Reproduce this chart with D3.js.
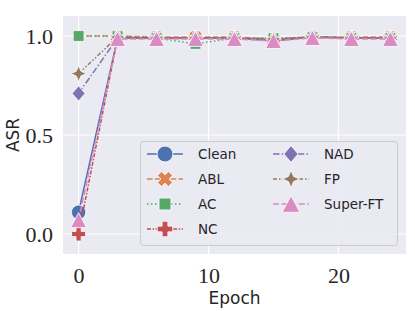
<!DOCTYPE html>
<html><head><meta charset="utf-8">
<script src="https://cdn.jsdelivr.net/npm/d3@7"></script>
<style>body{margin:0;background:#fff}svg{display:block}</style>
</head><body>
<script>
const epochs = [0, 3, 6, 9, 12, 15, 18, 21, 24];
const seriesNames = ["Clean", "ABL", "AC", "NC", "NAD", "FP", "Super-FT"];
const clean   = [0.11, 0.99, 0.99, 0.99, 0.99, 0.975, 0.995, 0.99, 0.99];
const abl     = [1.0, 1.0, 0.995, 0.995, 0.995, 0.985, 0.995, 0.995, 0.995];
const ac      = [1.0, 1.0, 0.99, 0.96, 0.99, 0.99, 0.995, 0.99, 0.99];
const nc      = [0.0, 0.99, 0.99, 0.99, 0.99, 0.98, 0.995, 0.99, 0.99];
const nad     = [0.71, 0.99, 0.99, 0.99, 0.99, 0.98, 0.995, 0.99, 0.99];
const fp      = [0.81, 0.995, 0.99, 0.99, 0.99, 0.985, 0.995, 0.99, 0.99];
const superFT = [0.07, 0.985, 0.985, 0.985, 0.985, 0.975, 0.99, 0.985, 0.985];
const xTicks = [0, 10, 20];
const yTicks = [0.0, 0.5, 1.0];
const yTickLabels = ["0.0", "0.5", "1.0"];

const values = [clean, abl, ac, nc, nad, fp, superFT];
const colors = ["#4C72B0", "#DD8452", "#55A868", "#C44E52", "#8172B3", "#937860", "#DA8BC3"];
const dashes = [null, "5.5,2.4", "1.5,2.5", "4,1.6,1.5,1.6", "6.5,2.2,1.5,2.2", "4,2,1.5,2,1.5,2", "6,2.6"];
const markers = ["circle", "x", "square", "plus", "diamond", "star", "triangle"];

const W = 415, H = 311;
const L = 63, R = 406, T = 16, B = 254;
const svg = d3.select("body").append("svg").attr("width", W).attr("height", H);
const x = d3.scaleLinear().domain([-1.2, 25.2]).range([L, R]);
const y = d3.scaleLinear().domain([-0.101, 1.101]).range([B, T]);

svg.append("rect").attr("x", L).attr("y", T).attr("width", R - L).attr("height", B - T).attr("fill", "#EAEAF2");
// grid
svg.append("g").selectAll("line").data(xTicks).join("line")
  .attr("x1", d => x(d)).attr("x2", d => x(d)).attr("y1", T).attr("y2", B)
  .attr("stroke", "#fff").attr("stroke-width", 1.2);
svg.append("g").selectAll("line").data(yTicks).join("line")
  .attr("y1", d => y(d)).attr("y2", d => y(d)).attr("x1", L).attr("x2", R)
  .attr("stroke", "#fff").attr("stroke-width", 1.2);

// axes (text only)
const tickFont = "'Liberation Serif', 'Times New Roman', serif";
const xAxis = d3.axisBottom(x).tickValues(xTicks).tickSize(0).tickPadding(10).tickFormat(d3.format("d"));
const gx = svg.append("g").attr("transform", `translate(0,${B})`).call(xAxis);
gx.select(".domain").remove();
gx.selectAll("text").attr("font-family", tickFont).attr("font-size", 22).attr("fill", "#262626")
  .attr("dy", "0.88em");
const yAxis = d3.axisLeft(y).tickValues(yTicks).tickSize(0).tickPadding(10).tickFormat((d, i) => yTickLabels[i]);
const gy = svg.append("g").attr("transform", `translate(${L},0)`).call(yAxis);
gy.select(".domain").remove();
gy.selectAll("text").attr("font-family", tickFont).attr("font-size", 22).attr("fill", "#262626");

svg.append("text").attr("x", x(12)).attr("y", 304).attr("text-anchor", "middle")
  .attr("font-family", "'DejaVu Sans', sans-serif").attr("font-size", 17).attr("fill", "#262626").text("Epoch");
svg.append("text").attr("transform", `translate(19,${y(0.5)}) rotate(-90)`).attr("text-anchor", "middle")
  .attr("font-family", "'DejaVu Sans', sans-serif").attr("font-size", 17).attr("fill", "#262626").text("ASR");

function markerPath(type) {
  switch (type) {
    case "circle": { const r = 7.2; return d3.arc()({innerRadius:0,outerRadius:r,startAngle:0,endAngle:2*Math.PI}); }
    case "square": { const s = 5.4; return `M${-s},${-s}H${s}V${s}H${-s}Z`; }
    case "diamond": { const s = 7.6; return `M0,${-s}L${s*0.85},0L0,${s}L${-s*0.85},0Z`; }
    case "triangle": { const w = 8, h = 7.5; return `M0,${-h}L${w},${h}L${-w},${h}Z`; }
    case "plus": { const a = 7, b = 2.6; return `M${-b},${-a}H${b}V${-b}H${a}V${b}H${b}V${a}H${-b}V${b}H${-a}V${-b}H${-b}Z`; }
    case "x": { const a = 7, b = 2.6;
      const pts = [[-b,-a],[b,-a],[b,-b],[a,-b],[a,b],[b,b],[b,a],[-b,a],[-b,b],[-a,b],[-a,-b],[-b,-b]];
      const c = Math.SQRT1_2;
      return "M" + pts.map(([px,py]) => [(px - py) * c, (px + py) * c].map(v => v.toFixed(2)).join(",")).join("L") + "Z"; }
    case "star": { const Ro = 7.8, ri = 3.3; let p = [];
      for (let i = 0; i < 8; i++) { const ang = -Math.PI/2 + i*Math.PI/4; const rr = i % 2 ? ri : Ro;
        p.push([rr*Math.cos(ang), rr*Math.sin(ang)]); }
      return "M" + p.map(q => q.map(v => v.toFixed(2)).join(",")).join("L") + "Z"; }
  }
}

const line = d3.line().x(d => x(d[0])).y(d => y(d[1]));
values.forEach((vals, i) => {
  const pts = epochs.map((e, j) => [e, vals[j]]);
  const g = svg.append("g");
  g.append("path").attr("d", line(pts)).attr("fill", "none").attr("stroke", colors[i])
    .attr("stroke-width", 1.5).attr("stroke-dasharray", dashes[i]);
  g.selectAll("path.m").data(pts).join("path").attr("class", "m")
    .attr("d", markerPath(markers[i]))
    .attr("transform", d => `translate(${x(d[0])},${y(d[1])})`)
    .attr("fill", colors[i]).attr("stroke", "#fff").attr("stroke-width", 0.8);
});

// legend
const lg = svg.append("g");
lg.append("rect").attr("x", 140.5).attr("y", 141.5).attr("width", 257).attr("height", 104).attr("rx", 3)
  .attr("fill", "#EAEAF2").attr("fill-opacity", 0.8).attr("stroke", "#CCCCCC").attr("stroke-width", 1);
seriesNames.forEach((name, i) => {
  const col = i < 4 ? 0 : 1, row = i < 4 ? i : i - 4;
  const x0 = col === 0 ? 147 : 273, yy = 154 + row * 25;
  lg.append("line").attr("x1", x0).attr("x2", x0 + 36).attr("y1", yy).attr("y2", yy)
    .attr("stroke", colors[i]).attr("stroke-width", 1.5).attr("stroke-dasharray", dashes[i]);
  lg.append("path").attr("d", markerPath(markers[i])).attr("transform", `translate(${x0 + 18},${yy}) scale(1.1)`)
    .attr("fill", colors[i]).attr("stroke", "#fff").attr("stroke-width", 0.7);
  lg.append("text").attr("x", x0 + 51).attr("y", yy).attr("dy", "0.36em")
    .attr("font-family", "'DejaVu Sans', sans-serif").attr("font-size", 13.5).attr("fill", "#262626").text(name);
});
</script>
</body></html>
